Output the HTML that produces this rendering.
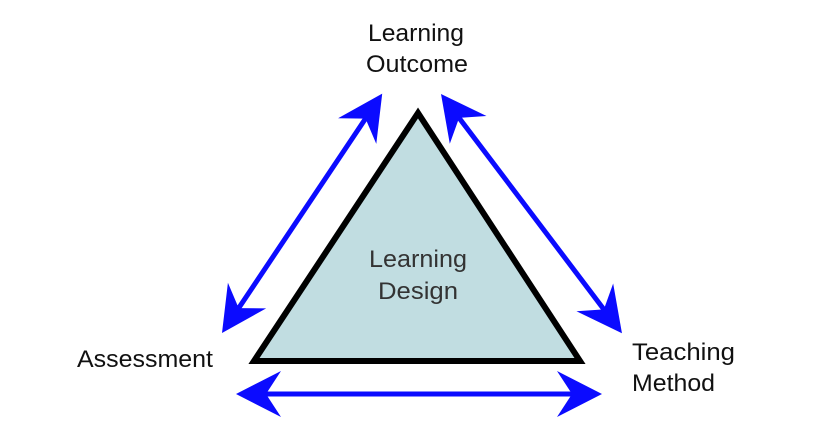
<!DOCTYPE html>
<html><head><meta charset="utf-8"><style>
html,body{margin:0;padding:0;background:#fff;}
svg{display:block;}
text{font-family:"Liberation Sans",Arial,sans-serif;font-size:24px;}
</style></head><body>
<svg width="830" height="442" viewBox="0 0 830 442" xmlns="http://www.w3.org/2000/svg">
<polygon points="418,113 254,361 580,361" fill="#c1dde1" stroke="#000" stroke-width="6" stroke-linejoin="miter"/>
<g fill="#0b0bff" stroke="#0b0bff">
  <g transform="translate(222,333) rotate(-56.2)">
    <line x1="20" y1="0" x2="268" y2="0" stroke-width="5"/>
    <polygon points="0,0 45,-23 30,0 45,23" stroke="none"/>
    <polygon points="288,0 243,-23 258,0 243,23" stroke="none"/>
  </g>
  <g transform="translate(441,94) rotate(52.9)">
    <line x1="20" y1="0" x2="280" y2="0" stroke-width="5"/>
    <polygon points="0,0 45,-23 30,0 45,23" stroke="none"/>
    <polygon points="300,0 255,-23 270,0 255,23" stroke="none"/>
  </g>
  <g transform="translate(236,394)">
    <line x1="20" y1="0" x2="346" y2="0" stroke-width="5"/>
    <polygon points="0,0 45,-23 30,0 45,23" stroke="none"/>
    <polygon points="366,0 321,-23 336,0 321,23" stroke="none"/>
  </g>
</g>
<g textLength="">
<text x="416" y="41" text-anchor="middle" fill="#111" textLength="96" lengthAdjust="spacingAndGlyphs">Learning</text>
<text x="417" y="72" text-anchor="middle" fill="#111" textLength="102" lengthAdjust="spacingAndGlyphs">Outcome</text>
<text x="418" y="267" text-anchor="middle" fill="#333" textLength="98" lengthAdjust="spacingAndGlyphs">Learning</text>
<text x="418" y="299" text-anchor="middle" fill="#333" textLength="80" lengthAdjust="spacingAndGlyphs">Design</text>
<text x="77" y="367" fill="#111" textLength="136" lengthAdjust="spacingAndGlyphs">Assessment</text>
<text x="632" y="360" fill="#111" textLength="103" lengthAdjust="spacingAndGlyphs">Teaching</text>
<text x="632" y="391" fill="#111" textLength="83" lengthAdjust="spacingAndGlyphs">Method</text>
</g>
</svg>
</body></html>
